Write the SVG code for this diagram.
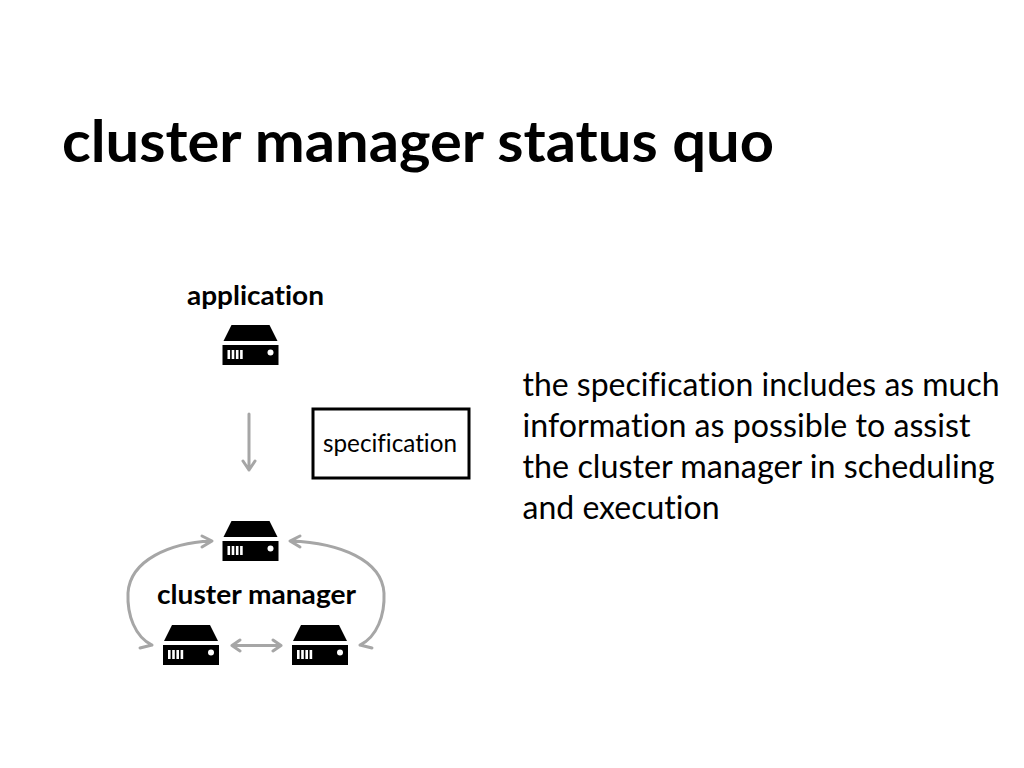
<svg xmlns="http://www.w3.org/2000/svg" width="1024" height="768" viewBox="0 0 1024 768">
<defs>
<style>
text{font-family:"Lato","Open Sans",sans-serif;fill:#000;font-variant-ligatures:none}
.c{fill:none;stroke:#a6a6a6;stroke-width:3;stroke-linecap:round;stroke-linejoin:round}
</style>
<g id="srv"><path d="M9 0H47L55 16H1Z"/><rect x="0" y="20" width="56" height="20"/><g fill="#fff"><rect x="5" y="25" width="2.600" height="9"/><rect x="9.200" y="25" width="2.600" height="9"/><rect x="13.400" y="25" width="2.600" height="9"/><rect x="17.600" y="25" width="2.600" height="9"/><circle cx="48" cy="27.500" r="3"/></g></g>
</defs>
<rect width="1024" height="768" fill="#fff"/>
<text x="62" y="161.500" font-size="58" font-weight="700" textLength="712" lengthAdjust="spacingAndGlyphs">cluster manager status quo</text>
<g id="application"><text x="187" y="305" font-size="27" font-weight="700" textLength="137" lengthAdjust="spacingAndGlyphs">application</text><use href="#srv" x="222.500" y="325"/></g>
<g id="spec"><rect x="313" y="409" width="156" height="69" fill="#fff" stroke="#000" stroke-width="3"/><text x="323" y="452" font-size="25" textLength="134" lengthAdjust="spacingAndGlyphs">specification</text></g>
<g id="manager"><use href="#srv" x="222.500" y="521"/><text x="157" y="603.500" font-size="27" font-weight="700" textLength="199" lengthAdjust="spacingAndGlyphs">cluster manager</text></g>
<g id="worker1"><use href="#srv" x="163" y="625"/></g>
<g id="worker2"><use href="#srv" x="292" y="625"/></g>
<g id="connectors">
<path class="c" d="M249 414V470M243 461L249 470L255 461"/>
<path class="c" d="M152 645C135 637 127 615 128 593C130 560 170 543 211 541M202 536L212 541L202 547M152 645L140 648"/>
<path class="c" d="M360 645C377 637 385 615 384 593C382 560 340 543 291 541M300 536L290 541L300 547M360 645L372 648"/>
<path class="c" d="M232 645.500H281M240 640L232 645.500L240 651M273 640L281 645.500L273 651"/>
</g>
<g id="note" font-size="32"><text x="522.500" y="396" textLength="477" lengthAdjust="spacingAndGlyphs">the specification includes as much</text><text x="522.500" y="437" textLength="448" lengthAdjust="spacingAndGlyphs">information as possible to assist</text><text x="522.500" y="478" textLength="472" lengthAdjust="spacingAndGlyphs">the cluster manager in scheduling</text><text x="522.500" y="519" textLength="197" lengthAdjust="spacingAndGlyphs">and execution</text></g>
</svg>
